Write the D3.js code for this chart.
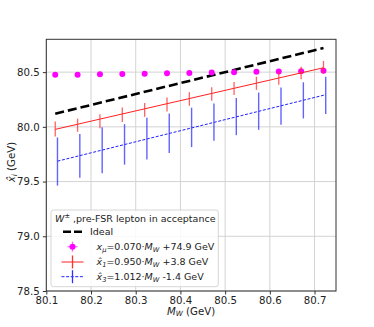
<!DOCTYPE html>
<html>
<head>
<meta charset="utf-8">
<script src="https://cdn.jsdelivr.net/npm/d3@7"></script>
<style>
  body { margin: 0; background: #fff; }
  text { font-family: "DejaVu Sans", sans-serif; fill: #222; }
</style>
</head>
<body>
<div id="chart"></div>
<script>
// W mass points (GeV)
const mw = [80.12, 80.17, 80.22, 80.27, 80.32, 80.37, 80.42, 80.47, 80.52, 80.57, 80.62, 80.67, 80.72];
const mwShifted = [80.125, 80.175, 80.225, 80.275, 80.325, 80.375, 80.425, 80.475, 80.525, 80.575, 80.625, 80.675, 80.725];

// x_mu estimator
const xmu = [80.475, 80.477, 80.480, 80.483, 80.486, 80.490, 80.493, 80.497, 80.500, 80.503, 80.506, 80.509, 80.512];
const xmuErr = [0.006, 0.006, 0.006, 0.006, 0.006, 0.006, 0.006, 0.006, 0.006, 0.006, 0.006, 0.006, 0.006];

// x1 hat estimator
const x1 = [79.980, 80.015, 80.052, 80.110, 80.155, 80.204, 80.255, 80.300, 80.350, 80.398, 80.444, 80.492, 80.545];
const x1Err = [0.068, 0.060, 0.064, 0.066, 0.062, 0.064, 0.062, 0.062, 0.060, 0.060, 0.060, 0.058, 0.057];

// x3 hat estimator
const x3 = [79.683, 79.735, 79.787, 79.840, 79.892, 79.942, 79.995, 80.043, 80.094, 80.143, 80.190, 80.242, 80.287];
const x3Err = [0.220, 0.200, 0.210, 0.185, 0.190, 0.180, 0.180, 0.170, 0.170, 0.170, 0.170, 0.165, 0.170];

// fitted lines, endpoints
const idealLine = [[80.12, 80.12], [80.72, 80.72]];
const fit1Line = [[80.12, 79.977], [80.72, 80.540]];
const fit3Line = [[80.125, 79.6865], [80.725, 80.2937]];

const xTicks = [80.1, 80.2, 80.3, 80.4, 80.5, 80.6, 80.7];
const yTicks = [78.5, 79.0, 79.5, 80.0, 80.5];

const width = 374, height = 327;
const pLeft = 46.3, pRight = 336, pTop = 39.3, pBottom = 291;

const svg = d3.select("#chart").append("svg")
    .attr("width", width)
    .attr("height", height);

const x = d3.scaleLinear().domain([80.1, 80.748]).range([pLeft, pRight]);
const y = d3.scaleLinear().domain([78.5, 80.8]).range([pBottom, pTop]);

// grid
svg.append("g").selectAll("line").data(xTicks).enter().append("line")
    .attr("x1", d => x(d)).attr("x2", d => x(d))
    .attr("y1", pTop).attr("y2", pBottom)
    .attr("stroke", "#d3d3d3").attr("stroke-width", 1);
svg.append("g").selectAll("line").data(yTicks).enter().append("line")
    .attr("x1", pLeft).attr("x2", pRight)
    .attr("y1", d => y(d)).attr("y2", d => y(d))
    .attr("stroke", "#d3d3d3").attr("stroke-width", 1);

const line = d3.line().x(d => x(d[0])).y(d => y(d[1]));

// ideal
svg.append("path").attr("d", line(idealLine))
    .attr("fill", "none").attr("stroke", "#000")
    .attr("stroke-width", 2.6).attr("stroke-dasharray", "9,4");

// x_mu points
const gMu = svg.append("g");
gMu.selectAll("line").data(mw).enter().append("line")
    .attr("x1", d => x(d)).attr("x2", d => x(d))
    .attr("y1", (d, i) => y(xmu[i] + xmuErr[i]))
    .attr("y2", (d, i) => y(xmu[i] - xmuErr[i]))
    .attr("stroke", "#ff00ff").attr("stroke-width", 1.2);
gMu.selectAll("circle").data(mw).enter().append("circle")
    .attr("cx", d => x(d)).attr("cy", (d, i) => y(xmu[i]))
    .attr("r", 3).attr("fill", "#ff00ff");

// x1 hat
svg.append("path").attr("d", line(fit1Line))
    .attr("fill", "none").attr("stroke", "#ff2020").attr("stroke-width", 1);
svg.append("g").selectAll("line").data(mw).enter().append("line")
    .attr("x1", d => x(d)).attr("x2", d => x(d))
    .attr("y1", (d, i) => y(x1[i] + x1Err[i]))
    .attr("y2", (d, i) => y(x1[i] - x1Err[i]))
    .attr("stroke", "#ff3030").attr("stroke-width", 1.3).attr("opacity", 0.75);

// x3 hat
svg.append("path").attr("d", line(fit3Line))
    .attr("fill", "none").attr("stroke", "#2020ff")
    .attr("stroke-width", 1).attr("stroke-dasharray", "3,1.6");
svg.append("g").selectAll("line").data(mwShifted).enter().append("line")
    .attr("x1", d => x(d)).attr("x2", d => x(d))
    .attr("y1", (d, i) => y(x3[i] + x3Err[i]))
    .attr("y2", (d, i) => y(x3[i] - x3Err[i]))
    .attr("stroke", "#3030ff").attr("stroke-width", 1.4).attr("opacity", 0.75);

// frame
svg.append("rect")
    .attr("x", pLeft).attr("y", pTop)
    .attr("width", pRight - pLeft).attr("height", pBottom - pTop)
    .attr("fill", "none").attr("stroke", "#333").attr("stroke-width", 1);

// axes
const xAxis = svg.append("g")
    .attr("transform", `translate(0,${pBottom})`)
    .call(d3.axisBottom(x).tickValues(xTicks).tickSize(3.5).tickPadding(1.8).tickFormat(d3.format(".1f")));
const yAxis = svg.append("g")
    .attr("transform", `translate(${pLeft},0)`)
    .call(d3.axisLeft(y).tickValues(yTicks).tickSize(3.5).tickPadding(3).tickFormat(d3.format(".1f")));
[xAxis, yAxis].forEach(a => {
    a.select(".domain").remove();
    a.selectAll("line").attr("stroke", "#333");
    a.selectAll("text").attr("font-size", 10.2).attr("fill", "#222")
        .style("font-family", "DejaVu Sans");
});

// axis labels
const xl = svg.append("text").attr("x", 191).attr("y", 314.5)
    .attr("text-anchor", "middle").attr("font-size", 10.2);
xl.append("tspan").attr("font-style", "italic").text("M");
xl.append("tspan").attr("font-style", "italic").attr("font-size", 7.2).attr("dy", 1.8).text("W");
xl.append("tspan").attr("dy", -1.8).text(" (GeV)");

const yl = svg.append("text")
    .attr("transform", "translate(15,162) rotate(-90)")
    .attr("text-anchor", "middle").attr("font-size", 10.2);
yl.append("tspan").attr("font-style", "italic").text("x\u0302");
yl.append("tspan").attr("font-style", "italic").attr("font-size", 7.2).attr("dy", 2).text("i");
yl.append("tspan").attr("dy", -2).text(" (GeV)");

// legend
const lg = svg.append("g");
lg.append("rect")
    .attr("x", 51).attr("y", 210).attr("width", 167.3).attr("height", 76.7)
    .attr("rx", 2.5).attr("fill", "#fff").attr("fill-opacity", 0.85)
    .attr("stroke", "#cccccc").attr("stroke-width", 0.8);

const fs = 9.5;
const title = lg.append("text").attr("x", 55).attr("y", 221.5).attr("font-size", fs);
title.append("tspan").attr("font-style", "italic").text("W");
title.append("tspan").attr("font-size", 6.6).attr("dy", -4).text("\u00b1");
title.append("tspan").attr("dy", 4).text(" ,pre-FSR lepton in acceptance");

const hx0 = 61.5, hx1 = 83.5, hxc = (hx0 + hx1) / 2;
const rows = [231.7, 246.7, 262, 276.7];

// Ideal
lg.append("line").attr("x1", hx0 + 1.5).attr("x2", hx1 - 1.5)
    .attr("y1", rows[0]).attr("y2", rows[0])
    .attr("stroke", "#000").attr("stroke-width", 2.6).attr("stroke-dasharray", "8,3");
lg.append("text").attr("x", 90).attr("y", rows[0] + 3.4).attr("font-size", fs).text("Ideal");

// x_mu handle
lg.append("line").attr("x1", hxc - 5).attr("x2", hxc + 5).attr("y1", rows[1]).attr("y2", rows[1])
    .attr("stroke", "#ff66ff").attr("stroke-width", 1.3);
lg.append("line").attr("x1", hxc).attr("x2", hxc).attr("y1", rows[1] - 5).attr("y2", rows[1] + 5)
    .attr("stroke", "#ff66ff").attr("stroke-width", 1.3);
lg.append("circle").attr("cx", hxc).attr("cy", rows[1]).attr("r", 3).attr("fill", "#ff00ff");

// x1 handle
lg.append("line").attr("x1", hx0).attr("x2", hx1).attr("y1", rows[2]).attr("y2", rows[2])
    .attr("stroke", "#ff2020").attr("stroke-width", 1);
lg.append("line").attr("x1", hxc).attr("x2", hxc).attr("y1", rows[2] - 6.5).attr("y2", rows[2] + 6.5)
    .attr("stroke", "#ff3030").attr("stroke-width", 1.3);

// x3 handle
lg.append("line").attr("x1", hx0).attr("x2", hx1).attr("y1", rows[3]).attr("y2", rows[3])
    .attr("stroke", "#2020ff").attr("stroke-width", 1).attr("stroke-dasharray", "3,1.6");
lg.append("line").attr("x1", hxc).attr("x2", hxc).attr("y1", rows[3] - 6.5).attr("y2", rows[3] + 6.5)
    .attr("stroke", "#3030ff").attr("stroke-width", 1.3);

function mathLabel(yy, sym, sub, rest) {
    const t = lg.append("text").attr("x", 96.5).attr("y", yy + 3.4).attr("font-size", fs);
    t.append("tspan").attr("font-style", "italic").text(sym);
    t.append("tspan").attr("font-style", "italic").attr("font-size", 6.7).attr("dy", 2).text(sub);
    t.append("tspan").attr("dy", -2).text(rest[0]);
    t.append("tspan").attr("font-style", "italic").text("M");
    t.append("tspan").attr("font-style", "italic").attr("font-size", 6.7).attr("dy", 2).text("W");
    t.append("tspan").attr("dy", -2).text(rest[1]);
}
mathLabel(rows[1], "x", "\u03bc", ["=0.070\u00b7", " +74.9 GeV"]);
mathLabel(rows[2], "x\u0302", "1", ["=0.950\u00b7", " +3.8 GeV"]);
mathLabel(rows[3], "x\u0302", "3", ["=1.012\u00b7", " -1.4 GeV"]);
</script>
</body>
</html>
